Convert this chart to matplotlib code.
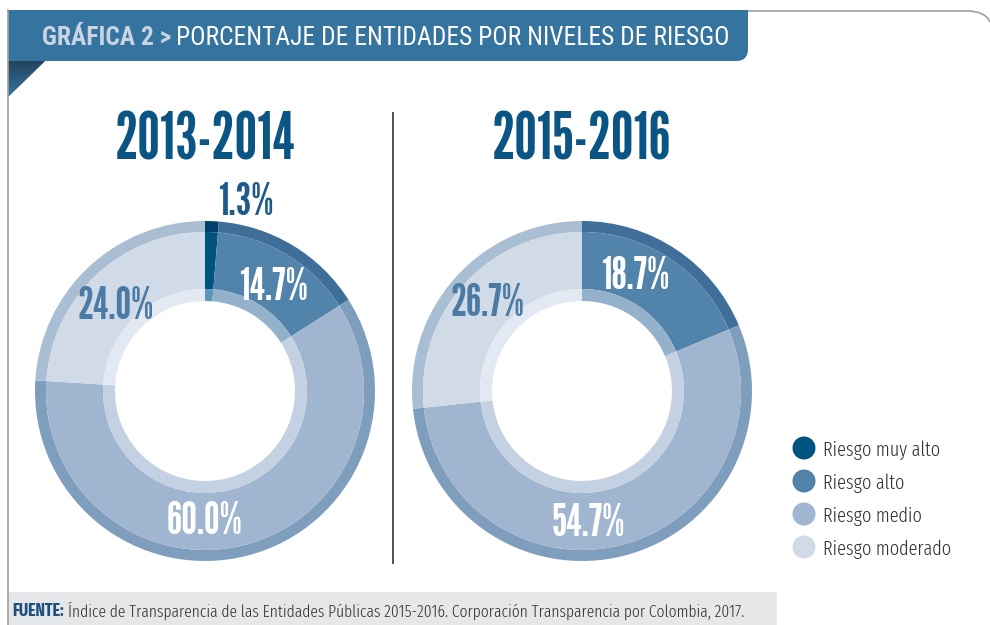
import matplotlib.pyplot as plt
import numpy as np
from matplotlib.colors import LinearSegmentedColormap
from matplotlib.patches import Circle, Polygon, PathPatch, Rectangle
from matplotlib.path import Path

# data
categories = ['Riesgo muy alto', 'Riesgo alto', 'Riesgo medio', 'Riesgo moderado']
periods = ['2013-2014', '2015-2016']
values_2013 = [1.3, 14.7, 60.0, 24.0]
values_2015 = [0.0, 18.7, 54.7, 26.7]

main_colors = ['#00527f', '#5183ab', '#a0b5cf', '#d0dbe7']
outer_colors = ['#00416b', '#3f6f98', '#7f9ebd', '#a9bdd3']
inner_colors = ['#5f95b9', '#93b1cb', '#c3d1e2', '#e3e9f2']

BIG = ['League Gothic', 'DejaVu Sans']
HEAD = ['Roboto Condensed', 'DejaVu Sans']
SMALL = ['Fira Sans Extra Condensed', 'DejaVu Sans']

fig = plt.figure(figsize=(9.9, 6.25), dpi=100)
ax = fig.add_axes([0, 0, 1, 1])

# frame lines
ax.plot([8, 8], [10, 625], color='#a0a0a0', lw=1.2)
frame = Path([(740, 11), (968, 11), (985, 11), (990, 22)],
             [Path.MOVETO, Path.LINETO, Path.CURVE3, Path.CURVE3])
ax.add_patch(PathPatch(frame, fill=False, ec='#a0a0a0', lw=1.2))

# header bar, rounded bottom-right corner
hdr = Path([(8, 10), (748, 10), (748, 49), (748, 61), (736, 61), (8, 61), (8, 10)],
           [Path.MOVETO, Path.LINETO, Path.LINETO, Path.CURVE3, Path.CURVE3,
            Path.LINETO, Path.CLOSEPOLY])
ax.add_patch(PathPatch(hdr, fc='#3674a0', ec='none'))

# folded corner under header, dark at the top fading to the bar colour
fold_cmap = LinearSegmentedColormap.from_list('fold', ['#23435e', '#3674a0'])
ys = np.linspace(61, 97, 19)
for k in range(len(ys) - 1):
    y0, y1 = ys[k], ys[k + 1]
    x0 = 8 + 37 * (97 - y0) / 36
    x1 = 8 + 37 * (97 - y1) / 36
    ax.add_patch(Polygon([(8, y0), (x0, y0), (x1, y1 + 0.3), (8, y1 + 0.3)],
                         closed=True, fc=fold_cmap(k / (len(ys) - 2)), ec='none'))

ax.text(42, 45, 'GRÁFICA 2 >', color='#c8d4e3', fontsize=18.4, fontweight='bold',
        family=HEAD, va='baseline', ha='left')
ax.text(176, 45, 'PORCENTAJE DE ENTIDADES POR NIVELES DE RIESGO', color='white',
        fontsize=18.4, family=HEAD, va='baseline', ha='left')

# donuts
centers = [(205, 391), (582, 391)]
for (cx, cy), vals, title in zip(centers, [values_2013, values_2015], periods):
    common = dict(center=(cx, cy), startangle=270, counterclock=True, normalize=True)
    ax.pie(vals, radius=170, colors=outer_colors,
           wedgeprops=dict(width=11, linewidth=0), **common)
    ax.pie(vals, radius=159, colors=main_colors,
           wedgeprops=dict(width=57, linewidth=0), **common)
    ax.pie(vals, radius=102, colors=inner_colors,
           wedgeprops=dict(width=12, linewidth=0), **common)
    ax.text(cx, 160, title, color='#0b5585', fontsize=46,
            family=BIG, ha='center', va='baseline')

# value labels (text anchor = baseline)
label_pos_2013 = [(246, 215), (273, 300), (205, 534), (116, 319)]
label_pos_2015 = [None, (635, 289), (588, 536), (487, 316)]
label_colors = ['#1f5a8a', 'white', 'white', '#4b7aa5']
for vals, positions in [(values_2013, label_pos_2013), (values_2015, label_pos_2015)]:
    for v, pos, col in zip(vals, positions, label_colors):
        if pos is None or v == 0:
            continue
        ax.text(pos[0], pos[1], f'{v:.1f}%', color=col, fontsize=32,
                family=BIG, ha='center', va='baseline')

# divider
ax.plot([393, 393], [113, 563], color='#444444', lw=1.3)

# legend
for i, (cat, col) in enumerate(zip(categories, main_colors)):
    y = 448 + i * 33
    ax.add_patch(Circle((804, y), 11.5, fc=col, ec='none'))
    ax.text(823, y + 8, cat, fontsize=14.3, fontweight=300, family=SMALL,
            color='#333333', ha='left', va='baseline')

# footer
ax.add_patch(Rectangle((8, 592), 769, 33, fc='#e6e7e8', ec='none'))
src = ax.text(12, 616, 'FUENTE:', fontsize=12.4, fontweight='bold', family=SMALL,
              color='#1d4f7c', ha='left', va='baseline')
ax.annotate('Índice de Transparencia de las Entidades Públicas 2015-2016. '
            'Corporación Transparencia por Colombia, 2017.',
            xy=(1, 0), xycoords=src, xytext=(3, 0), textcoords='offset points',
            fontsize=12.2, fontweight=300, family=SMALL, color='#333333',
            ha='left', va='bottom')

ax.set_xlim(0, 990)
ax.set_ylim(625, 0)
ax.set_aspect('auto')
ax.axis('off')

fig.savefig('out.png', dpi=100)
